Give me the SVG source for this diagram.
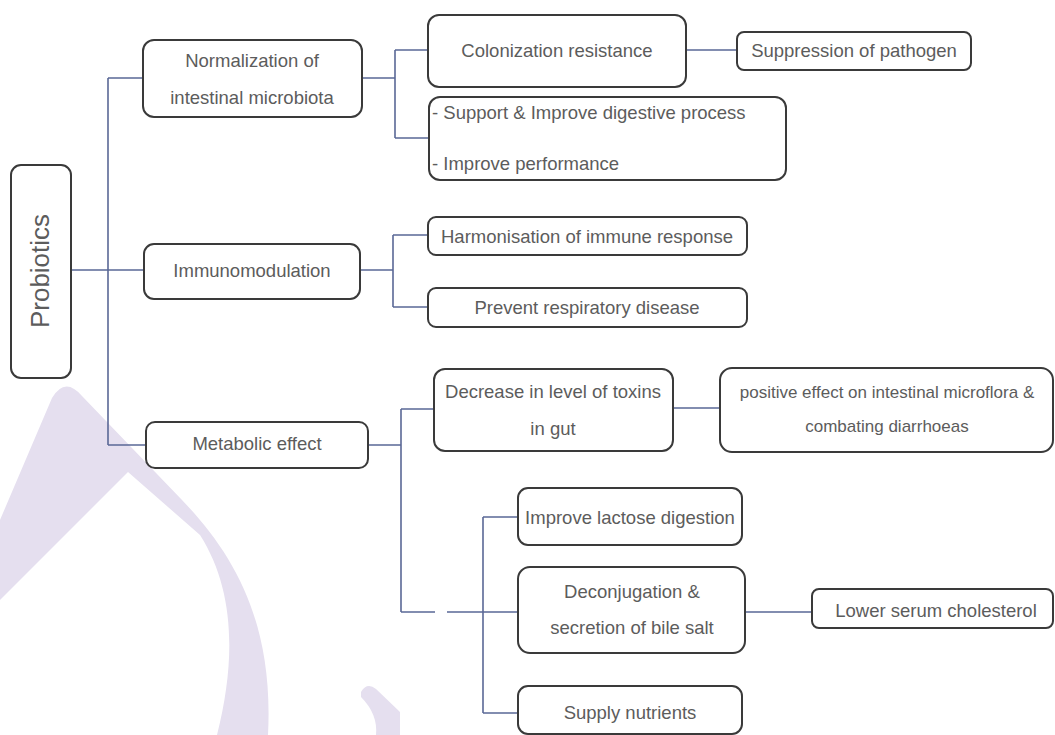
<svg xmlns="http://www.w3.org/2000/svg" width="1055" height="735" viewBox="0 0 1055 735">
<style>
.box{fill:#fff;stroke:#3a3a3a;stroke-width:2}
.lbl{font-family:"Liberation Sans",Arial,sans-serif;font-size:18.5px;fill:#5c5c5c;text-anchor:middle}
.lft{text-anchor:start}
.sm{font-size:17px}
.con{fill:none;stroke:#5a6896;stroke-width:1.6}
.wm{fill:#e5dfef}
</style>
<rect width="1055" height="735" fill="#fff"/>
<g id="watermark">
<path class="wm" d="M0,520 L52,398 Q65,376 82,396 L182,500 C232,552 274,620 268,735 L217,735 C236,660 235,590 200,535 L128,472 L0,600 Z"/>
<path class="wm" d="M361,692 Q367,682 376,689 L400,712 L400,735 L376,735 Q378,714 361,697 Z"/>
</g>
<g id="connectors">
<path class="con" d="M71,270 H108 M108,78 V445 M108,78 H143 M108,270 H144 M108,445 H146"/>
<path class="con" d="M362,78 H395 M395,50 V138 M395,50 H428 M395,138 H429 M686,50 H737"/>
<path class="con" d="M360,270 H393 M393,235 V307 M393,235 H428 M393,307 H428"/>
<path class="con" d="M368,445 H401 M401,409 V612 M401,409 H434 M401,612 H435 M447,612 H518 M673,408 H720"/>
<path class="con" d="M483,517 V713 M483,517 H518 M483,713 H518 M745,612 H812"/>
</g>
<g id="probiotics"><rect class="box" x="11" y="165" width="60" height="213" rx="10"/><text class="lbl" style="font-size:26px" transform="translate(49,271) rotate(-90)">Probiotics</text></g>
<g id="normalization"><rect class="box" x="143" y="40" width="219" height="77" rx="11"/><text class="lbl" x="252" y="66.5">Normalization of</text><text class="lbl" x="252" y="103.5">intestinal microbiota</text></g>
<g id="immunomodulation"><rect class="box" x="144" y="244" width="216" height="55" rx="10"/><text class="lbl" x="252" y="277">Immunomodulation</text></g>
<g id="metabolic"><rect class="box" x="146" y="422" width="222" height="46" rx="9"/><text class="lbl" x="257" y="450">Metabolic effect</text></g>
<g id="colonization"><rect class="box" x="428" y="15" width="258" height="72" rx="11"/><text class="lbl" x="557" y="57">Colonization resistance</text></g>
<g id="suppression"><rect class="box" x="737" y="32" width="234" height="38" rx="7"/><text class="lbl" x="854" y="57">Suppression of pathogen</text></g>
<g id="support"><rect class="box" x="429" y="97" width="357" height="83" rx="11"/><text class="lbl lft" x="432" y="118.5">- Support &amp; Improve digestive process</text><text class="lbl lft" x="432" y="169.5">- Improve performance</text></g>
<g id="harmonisation"><rect class="box" x="428" y="217" width="319" height="38" rx="8"/><text class="lbl" x="587" y="242.5">Harmonisation of immune response</text></g>
<g id="respiratory"><rect class="box" x="428" y="288" width="319" height="39" rx="8"/><text class="lbl" x="587" y="313.5">Prevent respiratory disease</text></g>
<g id="toxins"><rect class="box" x="434" y="369" width="239" height="82" rx="11"/><text class="lbl" x="553" y="397.5">Decrease in level of toxins</text><text class="lbl" x="553" y="434.5">in gut</text></g>
<g id="microflora"><rect class="box" x="720" y="368" width="333" height="84" rx="12"/><text class="lbl sm" x="887" y="398">positive effect on intestinal microflora &amp;</text><text class="lbl sm" x="887" y="432">combating diarrhoeas</text></g>
<g id="lactose"><rect class="box" x="518" y="488" width="224" height="57" rx="10"/><text class="lbl" x="630" y="523.5">Improve lactose digestion</text></g>
<g id="deconjugation"><rect class="box" x="518" y="567" width="227" height="86" rx="12"/><text class="lbl" x="632" y="597.5">Deconjugation &amp;</text><text class="lbl" x="632" y="633.5">secretion of bile salt</text></g>
<g id="nutrients"><rect class="box" x="518" y="686" width="224" height="48" rx="10"/><text class="lbl" x="630" y="718.5">Supply nutrients</text></g>
<g id="cholesterol"><rect class="box" x="812" y="589" width="241" height="39" rx="7"/><text class="lbl" x="936" y="616.5">Lower serum cholesterol</text></g>
</svg>
